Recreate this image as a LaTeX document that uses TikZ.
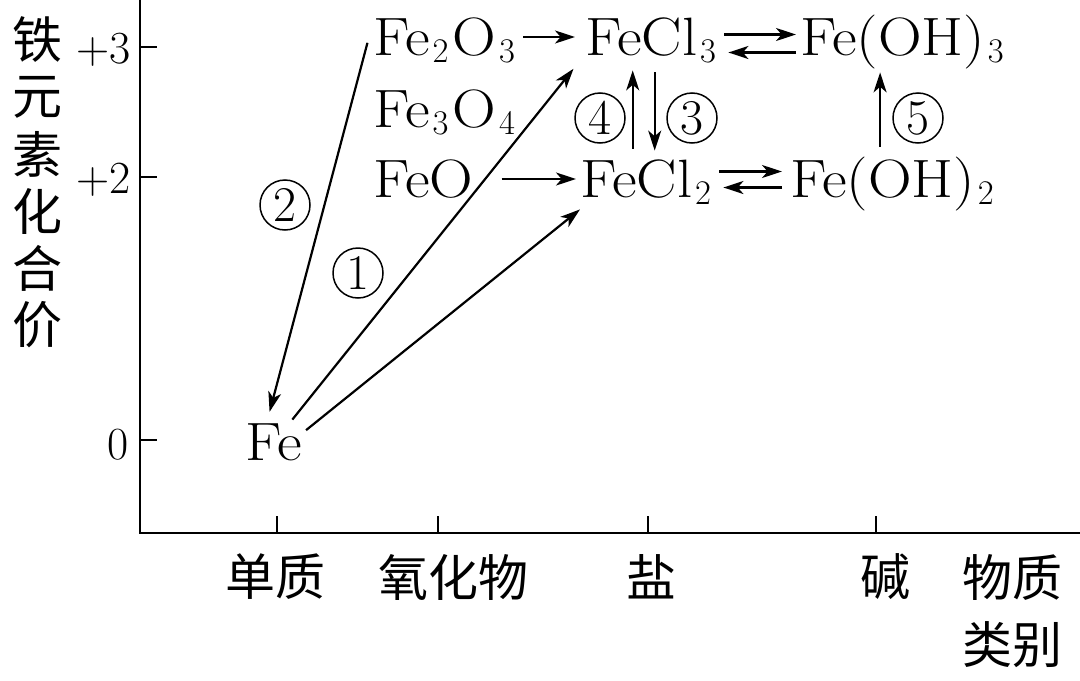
\documentclass[tikz,border=0pt]{standalone}
\usepackage{fontspec}
\newfontfamily\cjk{Noto Sans CJK SC}
\newfontfamily\chemfont[FakeStretch=1.12]{Latin Modern Roman}
\usetikzlibrary{arrows.meta, calc}
\newcommand{\chsub}[1]{\kern1.5pt\ensuremath{_{#1}}\kern1.5pt}

\begin{document}
\begin{tikzpicture}[
    x=0.5pt, y=-0.5pt,
    axis/.style={line width=1.25pt},
    arr/.style={-{Stealth[length=10pt, width=6.5pt, inset=2.8pt]}, line width=1.1pt},
    chem/.style={font=\chemfont\fontsize{27}{30}\selectfont, text height=18pt, text depth=0pt, inner sep=2pt, anchor=west},
    cjklab/.style={font=\cjk\fontsize{25}{30}\selectfont, inner sep=0pt},
    ticklab/.style={font=\fontsize{23}{28}\selectfont, inner sep=0pt},
    circled/.style={circle, draw, line width=0.75pt, minimum size=25pt, inner sep=0pt, font=\fontsize{25}{25}\selectfont}
]
\useasboundingbox (0,0) rectangle (1080,680);

% Axes and ticks
\draw[axis] (140,0) -- (140,533) -- (1080,533);
\foreach \y in {47,177,440} { \draw[axis] (140,\y) -- (157,\y); }
\foreach \x in {277,438,648,876} { \draw[axis] (\x,533) -- (\x,516); }

% Valence labels
\node[ticklab, anchor=east] (vthree) at (131,50) {+3};
\node[ticklab, anchor=east] (vtwo) at (131,180) {+2};
\node[ticklab] (vzero) at (118,445) {0};

% Vertical axis title
\foreach \ch [count=\i from 0] in {铁,元,素,化,合,价}
    { \node[cjklab] (ytitle\i) at (37,40+57*\i) {\ch}; }

% Category labels
\node[cjklab] (catelem) at (275,577) {单质};
\node[cjklab] (catoxide) at (453,577) {氧化物};
\node[cjklab] (catsalt) at (651,577) {盐};
\node[cjklab] (catbase) at (885,577) {碱};
\node[cjklab] (xtitlea) at (1012,577) {物质};
\node[cjklab] (xtitleb) at (1012,645) {类别};

% Iron species
\node[chem] (feiiio) at (369,37) {Fe\chsub{2}O\chsub{3}};
\node[chem] (feoct) at (369,109) {Fe\chsub{3}O\chsub{4}};
\node[chem] (feiio) at (369,179) {FeO};
\node[chem] (feiiicl) at (581,37) {FeCl\chsub{3}};
\node[chem] (feiiioh) at (796,37) {Fe(OH)\chsub{3}};
\node[chem] (feiicl) at (576,179) {FeCl\chsub{2}};
\node[chem] (feiioh) at (786,179) {Fe(OH)\chsub{2}};
\node[chem] (fe) at (241,442) {Fe};

% Horizontal conversions
\draw[arr, shorten >=3pt] (feiiio.east) -- (feiiicl.west);
\draw[arr, shorten <=12pt] (feiio.east) -- (feiicl.west);
\draw[arr] ([yshift=1.25pt]feiiicl.east) -- ([yshift=1.25pt]feiiioh.west);
\draw[arr, shorten >=2pt] ([yshift=-7.75pt]feiiioh.west) -- ([yshift=-7.75pt]feiiicl.east);
\draw[arr, shorten >=2pt] ([yshift=3.75pt]feiicl.east) -- ([yshift=3.75pt]feiioh.west);
\draw[arr, shorten <=2pt, shorten >=2pt] ([yshift=-4.25pt]feiioh.west) -- ([yshift=-4.25pt]feiicl.east);

% Vertical conversions
\coordinate (upfour) at ([xshift=-10pt]feiiicl.south);
\coordinate (downthree) at ([xshift=1pt]feiiicl.south);
\coordinate (upfive) at ([xshift=-12pt]feiiioh.south);
\draw[arr, shorten <=4pt, shorten >=5.5pt] (upfour |- feiicl.north) -- (upfour);
\draw[arr, shorten <=6.5pt, shorten >=3pt] (downthree) -- (downthree |- feiicl.north);
\draw[arr, shorten <=5pt, shorten >=6.5pt] (upfive |- feiioh.north) -- (upfive);

% Conversions from and to the element
\draw[arr, shorten <=3pt, shorten >=4pt] (feiiio.west) -- ([xshift=-3pt]fe.north);
\draw[arr, shorten >=6pt] (fe.50) -- (feiiicl.south west);
\draw[arr] (fe.20) -- ([xshift=2pt, yshift=-4pt]feiicl.south west);

% Reaction numbers
\node[circled] (rone) at (358,273) {1};
\node[circled] (rtwo) at (285,205) {2};
\node[circled] (rthree) at (692,118) {3};
\node[circled] (rfour) at (600,118) {4};
\node[circled] (rfive) at (918,118) {5};
\end{tikzpicture}
\end{document}
